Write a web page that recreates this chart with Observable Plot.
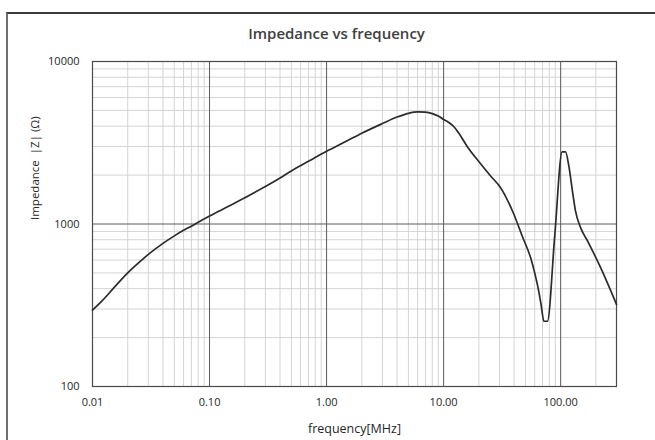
<!DOCTYPE html>
<html><head><meta charset="utf-8">
<script src="https://cdn.jsdelivr.net/npm/d3@7"></script>
<script src="https://cdn.jsdelivr.net/npm/@observablehq/plot@0.6"></script>
<style>
body{margin:0;background:#fff;overflow:hidden;}
#wrap{position:relative;width:655px;height:440px;overflow:hidden;}
#border{position:absolute;left:6px;top:12px;width:700px;height:500px;border-left:2px solid #6e6e6e;border-top:2px solid #3a3a3a;}
#chart{position:absolute;left:0;top:0;}
</style></head><body>
<div id="wrap"><div id="border"></div><div id="chart"></div></div>
<script>
const freq = [0.01,0.012,0.015,0.02,0.025,0.03,0.04,0.05,0.06,0.07,0.08,0.1,0.15,0.2,0.3,0.4,0.5,0.7,1,1.5,2,3,4,5,6,7,8,9,10,11,12.2,13.5,15.9,20.7,25,30.7,39.6,47,55.5,60,65,68,72,77,89,103,110,118,126,134,148,170,220,300];
const impedance = [295,335,400,500,580,650,760,845,915,970,1025,1120,1300,1450,1700,1920,2120,2430,2800,3250,3620,4150,4550,4800,4900,4880,4780,4620,4400,4230,3980,3620,3000,2350,1990,1670,1160,840,617,500,385,320,252,252,845,2780,2780,2230,1600,1200,950,785,537,320];

const xMajor = [0.01, 0.1, 1, 10, 100];
const xTickLabels = ["0.01", "0.10", "1.00", "10.00", "100.00"];
const xMinor = [0.02,0.03,0.04,0.05,0.06,0.07,0.08,0.09,0.2,0.3,0.4,0.5,0.6,0.7,0.8,0.9,2,3,4,5,6,7,8,9,20,30,40,50,60,70,80,90,200];
const yMajor = [100, 1000, 10000];
const yTickLabels = ["100", "1000", "10000"];
const yMinor = [200,300,400,500,600,700,800,900,2000,3000,4000,5000,6000,7000,8000,9000];

const title = "Impedance vs frequency";
const xTitle = "frequency[MHz]";
const yTitle = "Impedance\u00a0 |Z| (\u03a9)";

const data = freq.map((f, i) => ({f, z: impedance[i]}));

const chart = Plot.plot({
  width: 655,
  height: 440,
  marginLeft: 92,
  marginRight: 39,
  marginTop: 61,
  marginBottom: 54,
  style: {fontFamily: "'Open Sans', sans-serif", fontSize: "11px", color: "#262626", background: "transparent"},
  x: {type: "log", domain: [0.01, 300]},
  y: {type: "log", domain: [100, 10000]},
  marks: [
    Plot.ruleX(xMinor, {stroke: "#d4d4d4", strokeWidth: 1}),
    Plot.ruleY(yMinor, {stroke: "#d4d4d4", strokeWidth: 1}),
    Plot.ruleX(xMajor, {stroke: "#5a5a5a", strokeWidth: 1}),
    Plot.ruleY(yMajor, {stroke: "#5a5a5a", strokeWidth: 1}),
    Plot.frame({stroke: "#4a4a4a", strokeWidth: 1.2}),
    Plot.axisX(xMajor, {tickSize: 0, tickPadding: 12, tickFormat: d => xTickLabels[xMajor.indexOf(d)], label: null, fill: "#262626"}),
    Plot.axisY(yMajor, {tickSize: 0, tickPadding: 13, tickFormat: d => yTickLabels[yMajor.indexOf(d)], label: null, fill: "#262626"}),
    Plot.line(data, {x: "f", y: "z", stroke: "#2b2b2b", strokeWidth: 1.7, curve: "monotone-x"}),
    Plot.text([title], {text: d => d, frameAnchor: "top", dx: -18, dy: -33, fontSize: 15, fontWeight: 600, fill: "#404040"}),
    Plot.text([xTitle], {text: d => d, frameAnchor: "bottom", dy: 46, fontSize: 12.5, fill: "#262626"}),
    Plot.text([yTitle], {text: d => d, frameAnchor: "left", dx: -57, dy: -4, rotate: -90, fontSize: 11.5, fill: "#262626"})
  ]
});
document.getElementById("chart").appendChild(chart);
</script>
</body></html>
